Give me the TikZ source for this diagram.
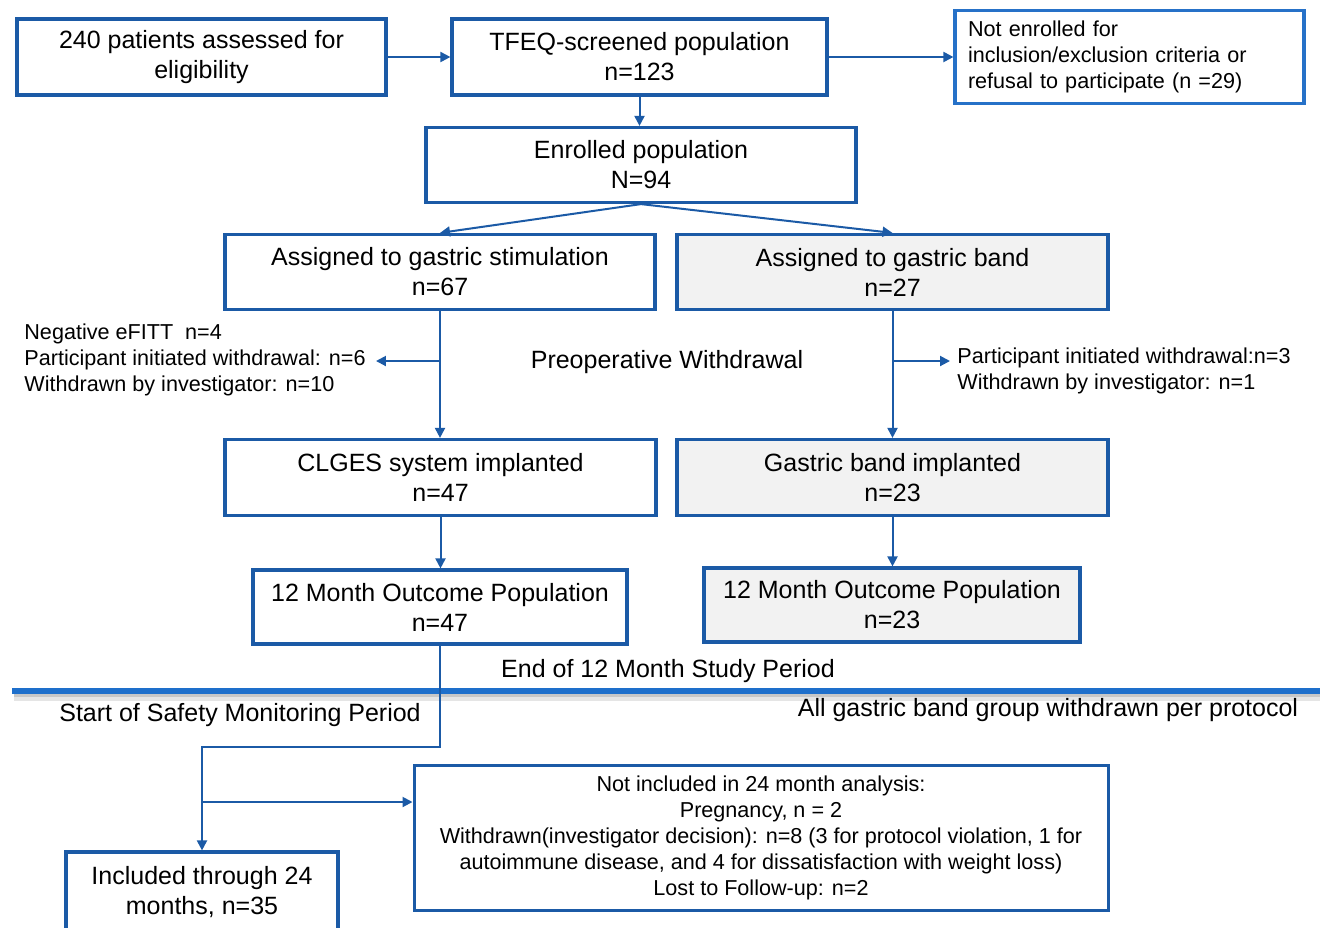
\documentclass[tikz,border=0pt]{standalone}
\usepackage{fontspec}
\setmainfont{Liberation Sans}
\usetikzlibrary{arrows.meta}
\definecolor{boxblue}{HTML}{1B5AA6}
\definecolor{lightblue}{HTML}{2671C8}
\definecolor{ruleblue}{HTML}{1E6FCB}
\definecolor{boxgrey}{HTML}{F2F2F2}
\newcommand{\bigfs}{\fontsize{12.5}{15}\selectfont}
\newcommand{\smallfs}{\fontsize{10.8}{13}\selectfont}
\tikzset{
  box/.style={draw=boxblue,line width=1.6pt,align=center,font=\bigfs,inner sep=0pt},
  greybox/.style={box,fill=boxgrey},
  link/.style={draw=boxblue,line width=1pt,-{Triangle[length=5pt,width=5pt]}},
  note/.style={align=left,font=\smallfs,inner sep=0pt},
  heading/.style={font=\bigfs,inner sep=0pt},
}
\begin{document}
\begin{tikzpicture}[x=0.5pt,y=-0.5pt]
\useasboundingbox (0,0) rectangle (1320,927);
% study period rule
\draw[black!10,line width=2.5pt] (14,698) -- (1320,698);
\draw[black!22,line width=1.5pt] (14,695.5) -- (1320,695.5);
\draw[ruleblue,line width=2.6pt] (12,691) -- (1320,691);
\node[box,minimum width=184.5pt,minimum height=38pt] (elig) at (201.5,57) {240 patients assessed for\\eligibility};
\node[box,minimum width=187.5pt,minimum height=38pt] (tfeq) at (639.5,57) {TFEQ-screened population\\n=123};
\node[box,draw=lightblue,minimum height=46.5pt,text width=161.5pt,align=left,inner xsep=6.5pt,font=\smallfs] (notenr) at (1129.5,57) {Not enrolled for\\inclusion/exclusion criteria or\\refusal to participate (n =29)};
\node[box,minimum width=215pt,minimum height=37.5pt] (enr) at (641,165) {Enrolled population\\N=94};
\node[box,minimum width=215pt,minimum height=37.5pt] (stim) at (440,272) {Assigned to gastric stimulation\\n=67};
\node[greybox,minimum width=215.5pt,minimum height=37.5pt] (band) at (892.5,272) {Assigned to gastric band\\n=27};
\node[box,minimum width=215.5pt,minimum height=38pt] (clges) at (440.5,477.5) {CLGES system implanted\\n=47};
\node[greybox,minimum width=215.5pt,minimum height=38pt] (gbimp) at (892.5,477.5) {Gastric band implanted\\n=23};
\node[box,minimum width=187pt,minimum height=37pt] (out1) at (440,607) {12 Month Outcome Population\\n=47};
\node[greybox,minimum width=188pt,minimum height=37pt] (out2) at (892,605) {12 Month Outcome Population\\n=23};
\node[box,minimum width=347pt,minimum height=72.5pt,font=\smallfs,line width=1.5pt] (notinc) at (761,838) {Not included in 24 month analysis:\\Pregnancy, n = 2\\Withdrawn(investigator decision): n=8 (3 for protocol violation, 1 for\\autoimmune disease, and 4 for dissatisfaction with weight loss)\\Lost to Follow-up: n=2};
\node[box,minimum width=136pt,minimum height=40pt] (incl) at (202,892) {Included through 24\\months, n=35};
\node[note,anchor=west] (wdleft) at (24,360) {Negative eFITT\ \ n=4\\Participant initiated withdrawal: n=6\\Withdrawn by investigator: n=10};
\node[note,anchor=west] (wdright) at (957,371) {Participant initiated withdrawal:n=3\\Withdrawn by investigator: n=1};
\node[heading] (preop) at (667,362) {Preoperative Withdrawal};
\node[heading] (end12) at (668,671) {End of 12 Month Study Period};
\node[heading] (start) at (240,715) {Start of Safety Monitoring Period};
\node[heading] (allgb) at (1048,710) {All gastric band group withdrawn per protocol};
\coordinate (pre) at (0,361);
\coordinate (turn) at (0,747);
\coordinate (split) at (0,802);
\draw[link] (elig) -- (tfeq);
\draw[link] (tfeq.east) -- (tfeq.east -| notenr.west);
\draw[link] (tfeq.south) -- (tfeq.south |- enr.north);
\draw[link] (enr.south) -- (stim.north);
\draw[link] (enr.south) -- (band.north);
\draw[link] (stim.south) -- (stim.south |- clges.north);
\draw[link] (band.south) -- (band.south |- gbimp.north);
\draw[link] (stim.south |- pre) -- ([xshift=5pt]wdleft.east |- pre);
\draw[link] (band.south |- pre) -- ([xshift=-3.5pt]wdright.west |- pre);
\draw[link] (clges.south) -- (clges.south |- out1.north);
\draw[link] (gbimp.south) -- (gbimp.south |- out2.north);
\draw[link] (out1.south) |- (incl.north |- turn) -- (incl.north);
\draw[link] (incl.north |- split) -- (notinc.west |- split);
\end{tikzpicture}
\end{document}
